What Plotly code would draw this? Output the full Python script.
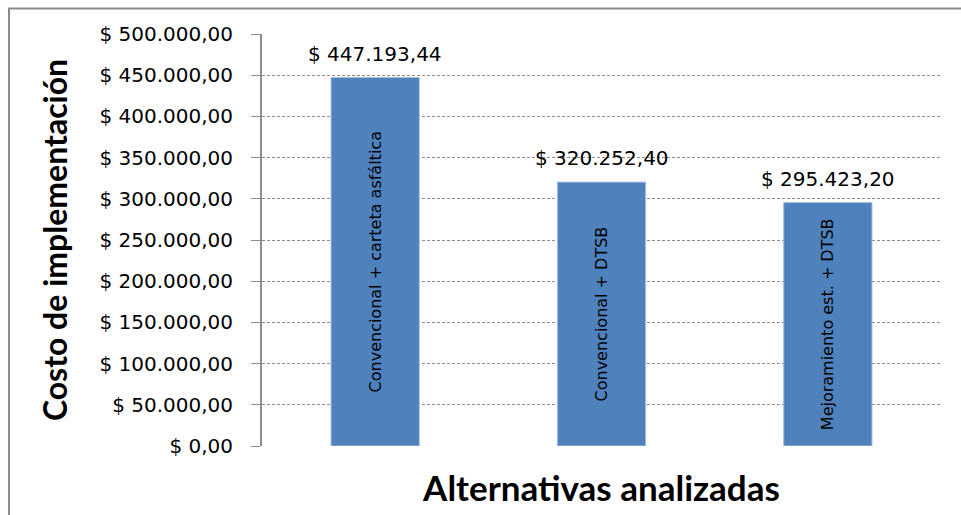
import plotly.graph_objects as go

# Implementation cost per analysed alternative
alternativas = [
    "Convencional + carteta asfáltica",
    "Convencional + DTSB",
    "Mejoramiento est. + DTSB",
]
costos = [447193.44, 320252.40, 295423.20]

tick_vals = [0, 50000, 100000, 150000, 200000, 250000, 300000, 350000, 400000, 450000, 500000]


def pesos(v):
    s = f"{v:,.2f}".replace(",", "_").replace(".", ",").replace("_", ".")
    return f"$ {s}"


tick_text = [pesos(v) for v in tick_vals]

BODY = "DejaVu Sans"
TITLE = "Lato"
GREY = "#8C8C8C"

fig = go.Figure()
fig.add_trace(
    go.Bar(
        x=alternativas,
        y=costos,
        text=alternativas,
        textposition="inside",
        textangle=-90,
        insidetextanchor="middle",
        insidetextfont=dict(family=BODY, size=16, color="#000000"),
        marker=dict(color="#4F81BD", line=dict(color="#A7BEDD", width=1)),
        width=0.39,
        hoverinfo="skip",
    )
)

for cat, val in zip(alternativas, costos):
    fig.add_annotation(
        x=cat,
        y=val,
        text=pesos(val),
        showarrow=False,
        yanchor="bottom",
        yshift=10,
        font=dict(family=BODY, size=20, color="#000000"),
    )

# outer chart frame (left and top edges visible)
fig.add_shape(
    type="rect",
    xref="paper",
    yref="paper",
    x0=-0.3726,
    x1=1.2,
    y0=-0.4,
    y1=1.0619,
    line=dict(color=GREY, width=2),
    layer="below",
)

fig.update_layout(
    width=961,
    height=515,
    margin=dict(l=262, r=20, t=34, b=69),
    paper_bgcolor="white",
    plot_bgcolor="white",
    showlegend=False,
    font=dict(family=BODY, color="#000000"),
    xaxis=dict(
        showticklabels=False,
        ticks="",
        showline=False,
        showgrid=False,
        title=dict(
            text="<b>Alternativas analizadas</b>",
            font=dict(family=TITLE, size=35, color="#000000"),
            standoff=30,
        ),
    ),
    yaxis=dict(
        range=[0, 500000],
        tickvals=tick_vals,
        ticktext=tick_text,
        ticks="outside",
        ticklen=9,
        tickcolor=GREY,
        tickwidth=1,
        tickfont=dict(family=BODY, size=20, color="#000000"),
        ticklabelstandoff=14,
        showline=True,
        linecolor=GREY,
        linewidth=2,
        showgrid=True,
        gridcolor=GREY,
        gridwidth=1,
        griddash="3px,2px",
        zeroline=False,
        title=dict(
            text="<b>Costo de implementación</b>",
            font=dict(family=TITLE, size=32, color="#000000"),
            standoff=22,
        ),
    ),
)

fig.write_html("out.html")
